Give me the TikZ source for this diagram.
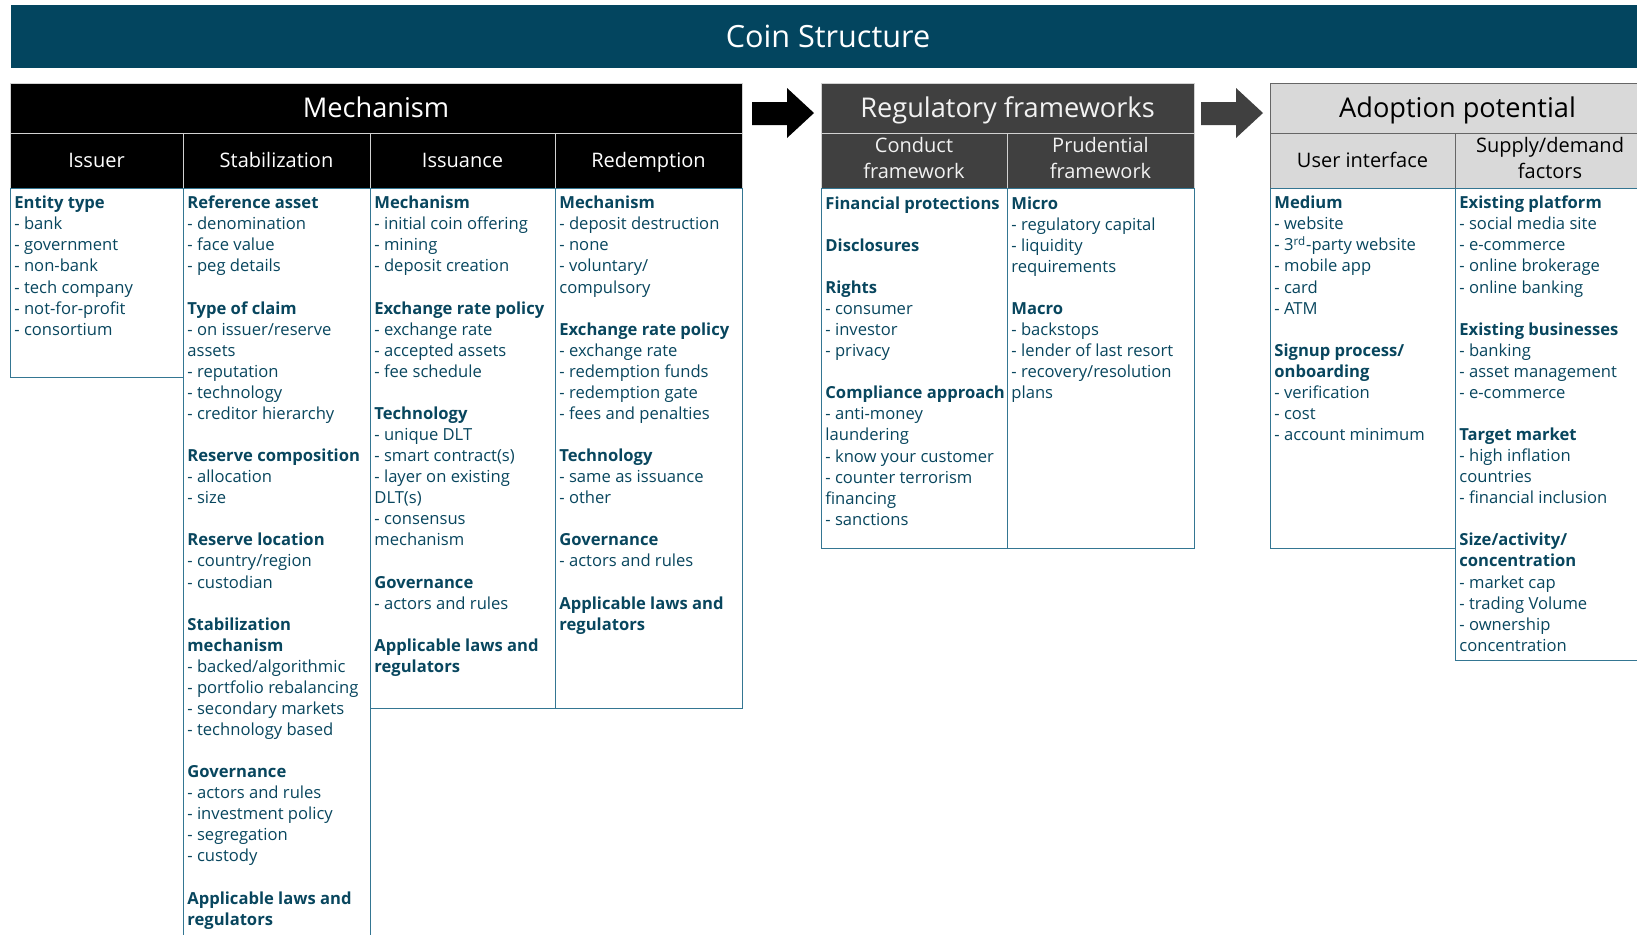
\documentclass[tikz,border=0pt]{standalone}
\usepackage{fontspec}
\setmainfont{Open Sans}
\usetikzlibrary{positioning}
\definecolor{bisblue}{RGB}{3,69,95}
\definecolor{bistext}{RGB}{8,70,94}
\definecolor{cellline}{RGB}{52,118,146}
\definecolor{darkgrey}{RGB}{64,64,64}
\definecolor{lightgrey}{RGB}{217,217,217}
\newcommand{\bodyfont}{\fontsize{8.3}{10.535}\selectfont}
\newcommand{\emptyline}{\\[10.535pt]}
\newcommand{\hdstrut}{\rule[-0.25em]{0pt}{1.2em}}

\begin{document}
\begin{tikzpicture}[x=0.5pt,y=-0.5pt,
		banner/.style={anchor=north west,fill=bisblue,text=white,inner sep=0pt,outer sep=0pt,
			minimum width=817pt,minimum height=31.5pt,font=\fontsize{15.3}{18}\selectfont,
			execute at begin node=\hdstrut},
		mainhead/.style={anchor=north west,inner sep=0pt,outer sep=0pt,minimum height=25pt,
			line width=0.5pt,font=\fontsize{13.6}{16}\selectfont,execute at begin node=\hdstrut},
		subhead/.style={anchor=north west,inner sep=0pt,outer sep=0pt,minimum height=27.5pt,
			line width=0.5pt,align=center,font=\fontsize{10}{13}\selectfont,
			execute at begin node=\hdstrut,execute at end node=\hdstrut},
		blackhead/.style={fill=black,draw=gray!35,text=white},
		greyhead/.style={fill=darkgrey,draw=gray!35,text=white!95!black},
		lighthead/.style={fill=lightgrey,draw=darkgrey!80,text=black},
		cell/.style={anchor=north west,draw=cellline,fill=white,line width=0.5pt,inner sep=0pt,outer sep=0pt},
		txt/.style={anchor=north west,inner sep=0pt,align=left,text=bistext,font=\bodyfont}
		]
		\useasboundingbox (0,0) rectangle (1637,934);
		\clip (0,0) rectangle (1637,934);

		\node[banner] (title) at (11,5) {Coin Structure};

		% mechanism block
		\node[mainhead,blackhead,minimum width=366pt] (mech) at (10,83) {Mechanism};
		\node[subhead,blackhead,minimum width=86.5pt] (issuer) at (mech.south west) {Issuer};
		\node[subhead,blackhead,minimum width=93.5pt] (stab) at (issuer.north east) {Stabilization};
		\node[subhead,blackhead,minimum width=92.5pt] (issuance) at (stab.north east) {Issuance};
		\node[subhead,blackhead,minimum width=93.5pt] (redemp) at (issuance.north east) {Redemption};

		\node[cell,minimum width=86.5pt,minimum height=94.5pt] (issuerbox) at (issuer.south west) {};
		\node[cell,minimum width=93.5pt,minimum height=380pt] (stabbox) at (stab.south west) {};
		\node[cell,minimum width=92.5pt,minimum height=260pt] (issuancebox) at (issuance.south west) {};
		\node[cell,minimum width=93.5pt,minimum height=260pt] (redempbox) at (redemp.south west) {};

		\node[txt,below right=2.8pt and 2pt of issuerbox.north west] (issuertxt) {\strut\textbf{Entity type}\\
			- bank\\- government\\- non-bank\\- tech company\\- not-for-profit\\- consortium};
		\node[txt,below right=2.8pt and 2pt of stabbox.north west] (stabtxt) {\strut\textbf{Reference asset}\\
			- denomination\\- face value\\- peg details\emptyline
			\textbf{Type of claim}\\- on issuer/reserve\\assets\\- reputation\\- technology\\- creditor hierarchy\emptyline
			\textbf{Reserve composition}\\- allocation\\- size\emptyline
			\textbf{Reserve location}\\- country/region\\- custodian\emptyline
			\textbf{Stabilization}\\\textbf{mechanism}\\- backed/algorithmic\\- portfolio rebalancing\\- secondary markets\\- technology based\emptyline
			\textbf{Governance}\\- actors and rules\\- investment policy\\- segregation\\- custody\emptyline
			\textbf{Applicable laws and}\\\textbf{regulators}};
		\node[txt,below right=2.8pt and 2pt of issuancebox.north west] (issuancetxt) {\strut\textbf{Mechanism}\\
			- initial coin offering\\- mining\\- deposit creation\emptyline
			\textbf{Exchange rate policy}\\- exchange rate\\- accepted assets\\- fee schedule\emptyline
			\textbf{Technology}\\- unique DLT\\- smart contract(s)\\- layer on existing\\DLT(s)\\- consensus\\mechanism\emptyline
			\textbf{Governance}\\- actors and rules\emptyline
			\textbf{Applicable laws and}\\\textbf{regulators}};
		\node[txt,below right=2.8pt and 2pt of redempbox.north west] (redemptxt) {\strut\textbf{Mechanism}\\
			- deposit destruction\\- none\\- voluntary/\\compulsory\emptyline
			\textbf{Exchange rate policy}\\- exchange rate\\- redemption funds\\- redemption gate\\- fees and penalties\emptyline
			\textbf{Technology}\\- same as issuance\\- other\emptyline
			\textbf{Governance}\\- actors and rules\emptyline
			\textbf{Applicable laws and}\\\textbf{regulators}};

		% block arrows
		\fill[black] (752,102) -- (787,102) -- (787,88) -- (814,113) -- (787,138) -- (787,125) -- (752,125) -- cycle;
		\fill[darkgrey] (1201,102) -- (1236,102) -- (1236,88) -- (1263,113) -- (1236,138) -- (1236,125) -- (1201,125) -- cycle;

		% regulatory block
		\node[mainhead,greyhead,minimum width=186.5pt] (reg) at (821,83) {Regulatory frameworks};
		\node[subhead,greyhead,minimum width=93pt] (conduct) at (reg.south west) {Conduct\\framework};
		\node[subhead,greyhead,minimum width=93.5pt] (prud) at (conduct.north east) {Prudential\\framework};

		\node[cell,minimum width=93pt,minimum height=180pt] (conductbox) at (conduct.south west) {};
		\node[cell,minimum width=93.5pt,minimum height=180pt] (prudbox) at (prud.south west) {};

		\node[txt,below right=3pt and 2pt of conductbox.north west] (conducttxt) {\strut\textbf{Financial protections}\emptyline
			\textbf{Disclosures}\emptyline
			\textbf{Rights}\\- consumer\\- investor\\- privacy\emptyline
			\textbf{Compliance approach}\\- anti-money\\laundering\\- know your customer\\- counter terrorism\\financing\\- sanctions};
		\node[txt,below right=3pt and 2pt of prudbox.north west] (prudtxt) {\strut\textbf{Micro}\\
			- regulatory capital\\- liquidity\\requirements\emptyline
			\textbf{Macro}\\- backstops\\- lender of last resort\\- recovery/resolution\\plans};

		% adoption block
		\node[mainhead,lighthead,minimum width=187.5pt] (adopt) at (1270,83) {Adoption potential};
		\node[subhead,lighthead,minimum width=92.5pt] (ui) at (adopt.south west) {User interface};
		\node[subhead,lighthead,minimum width=95pt] (supply) at (ui.north east) {Supply/demand\\factors};

		\node[cell,minimum width=92.5pt,minimum height=180pt] (uibox) at (ui.south west) {};
		\node[cell,minimum width=95pt,minimum height=236pt] (supplybox) at (supply.south west) {};

		\node[txt,below right=2.8pt and 2pt of uibox.north west] (uitxt) {\strut\textbf{Medium}\\
			- website\\- 3\textsuperscript{rd}-party website\\- mobile app\\- card\\- ATM\emptyline
			\textbf{Signup process/}\\\textbf{onboarding}\\- verification\\- cost\\- account minimum};
		\node[txt,below right=2.8pt and 2pt of supplybox.north west] (supplytxt) {\strut\textbf{Existing platform}\\
			- social media site\\- e-commerce\\- online brokerage\\- online banking\emptyline
			\textbf{Existing businesses}\\- banking\\- asset management\\- e-commerce\emptyline
			\textbf{Target market}\\- high inflation\\countries\\- financial inclusion\emptyline
			\textbf{Size/activity/}\\\textbf{concentration}\\- market cap\\- trading Volume\\- ownership\\concentration};
\end{tikzpicture}
\end{document}
